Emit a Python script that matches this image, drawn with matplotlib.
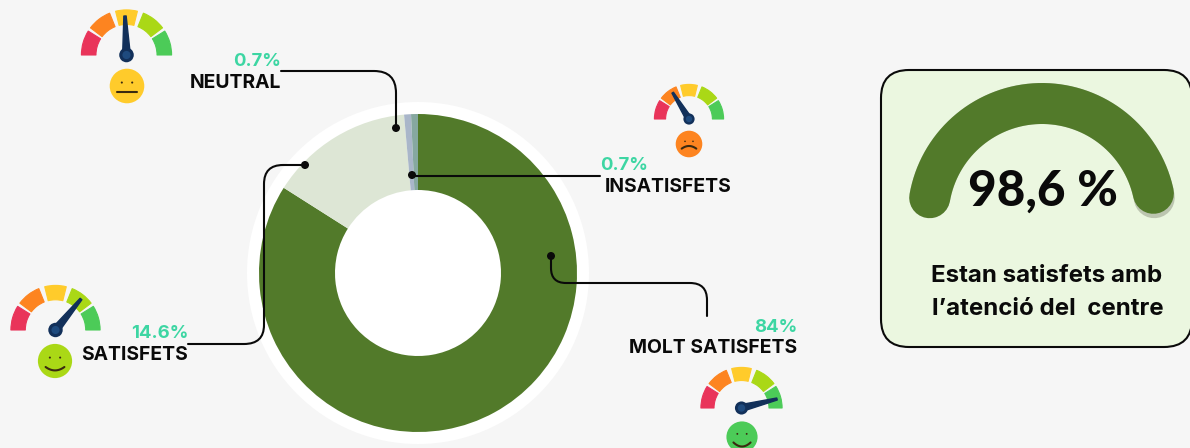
import numpy as np
import matplotlib
matplotlib.use('Agg')
import matplotlib.pyplot as plt
from matplotlib.patches import Circle, Wedge, Polygon, FancyBboxPatch, PathPatch
from matplotlib.path import Path

# Data
categories = ['MOLT SATISFETS', 'SATISFETS', 'NEUTRAL', 'INSATISFETS']
values = [84, 14.6, 0.7, 0.7]
value_labels = ['84%', '14.6%', '0.7%', '0.7%']
total_satisfied = 98.6
colors = ['#527a2a', '#dde6d5', '#a9b6c9', '#86a8a0']

BG = '#f6f6f6'
INK = '#0a0a0a'
MINT = '#3dd6a3'
GAUGE_COLORS = ['#e9345a', '#fd8420', '#ffcb2b', '#aad816', '#4ccb58']
GAUGE_SPANS = [(148, 180), (112, 143), (76, 104), (37, 68), (0, 32)]

W, H = 1190, 448
plt.rcParams['font.family'] = ['Inter', 'DejaVu Sans']

fig = plt.figure(figsize=(W / 100, H / 100), dpi=100, facecolor=BG)

# Pixel-space canvas behind everything
bg = fig.add_axes([0, 0, 1, 1], zorder=0)
bg.set_xlim(0, W)
bg.set_ylim(H, 0)
bg.axis('off')
bg.add_patch(Circle((418, 273), 171, fc='white', ec='none'))

# Donut
R = 159
pie_ax = fig.add_axes([(418 - R) / W, (H - 273 - R) / H, 2 * R / W, 2 * R / H], zorder=1)
pie_ax.pie(values, colors=colors, startangle=90, counterclock=False, radius=1,
           wedgeprops={'width': 1 - 83 / R, 'linewidth': 0})
pie_ax.set_xlim(-1, 1)
pie_ax.set_ylim(-1, 1)
pie_ax.set_aspect('auto')
pie_ax.patch.set_alpha(0)

# Annotation layer
ax = fig.add_axes([0, 0, 1, 1], zorder=2)
ax.set_xlim(0, W)
ax.set_ylim(H, 0)
ax.axis('off')
ax.patch.set_alpha(0)


def leader(points, dot):
    # points: (x, y, kind) with kind in M, L, Q (Q takes control then end)
    verts, codes = [], []
    for x, y, k in points:
        verts.append((x, y))
        codes.append({'M': Path.MOVETO, 'L': Path.LINETO, 'Q': Path.CURVE3}[k])
    ax.add_patch(PathPatch(Path(verts, codes), fc='none', ec=INK, lw=1.5, capstyle='round'))
    ax.add_patch(Circle(dot, 4, fc=INK, ec='none', zorder=5))


leader([(281, 71, 'M'), (374, 71, 'L'), (396, 71, 'Q'), (396, 93, 'Q'), (396, 128, 'L')], (396, 128))
leader([(412, 176, 'M'), (600, 176, 'L')], (412, 175))
leader([(188, 344, 'M'), (244, 344, 'L'), (264, 344, 'Q'), (264, 325, 'Q'), (264, 184, 'L'),
        (264, 165, 'Q'), (283, 165, 'Q'), (305, 165, 'L')], (305, 165))
leader([(551, 256, 'M'), (551, 268, 'L'), (551, 283, 'Q'), (566, 283, 'Q'), (690, 283, 'L'),
        (707, 283, 'Q'), (707, 300, 'Q'), (707, 316, 'L')], (551, 256))


def label(x, y_pct, y_name, i, ha='right', pct_x=None):
    ax.text(x if pct_x is None else pct_x, y_pct, value_labels[i], color=MINT, fontsize=13.3,
            fontweight='bold', ha=ha, va='center')
    ax.text(x, y_name, categories[i], color=INK, fontsize=13.9, fontweight='bold',
            ha=ha, va='center')


label(281, 62, 83, 2)
label(732, 166, 187, 3, pct_x=648)
label(188, 334, 355, 1)
label(797, 328, 348, 0)


def gauge(cx, cy, r, tip, face, face_c, mouth):
    thick = r * 0.32
    for (a, b), c in zip(GAUGE_SPANS, GAUGE_COLORS):
        ax.add_patch(Wedge((cx, cy), r - 0.4, -b, -a, width=thick, fc=c, ec=c, lw=0.8, joinstyle='round'))
    # needle
    dx, dy = tip[0] - cx, tip[1] - cy
    n = np.hypot(dx, dy)
    ux, uy = -dy / n, dx / n
    base, end = r * 0.085, r * 0.025
    ax.add_patch(Polygon([(cx + ux * base, cy + uy * base), (cx - ux * base, cy - uy * base),
                          (tip[0] - ux * end, tip[1] - uy * end), (tip[0] + ux * end, tip[1] + uy * end)],
                         fc='#12305a', ec='#12305a', lw=1, joinstyle='round', zorder=3))
    ax.add_patch(Circle((cx, cy), r * 0.16, fc='#12305a', ec='none', zorder=3))
    ax.add_patch(Circle((cx, cy), r * 0.09, fc='#1e4a7e', ec='none', zorder=4))
    # face
    fx, fy = face
    fr = r * 0.38
    ax.add_patch(Circle(face, fr, fc=face_c, ec='none'))
    for s in (-1, 1):
        ax.add_patch(Circle((fx + s * fr * 0.3, fy - fr * 0.2), fr * 0.06, fc='#3a2a10', ec='none'))
    t = np.linspace(-1, 1, 20)
    ax.plot(fx + t * fr * 0.55, fy + fr * 0.35 + mouth * fr * 0.2 * (1 - t ** 2),
            color='#3a2a10', lw=1.5, solid_capstyle='round')


gauge(126.5, 55, 45.5, (125, 16), (127, 86), '#ffcb2b', 0)
gauge(689, 119, 35, (672.7, 92.7), (689, 144), '#fd8420', -1)
gauge(55.5, 330, 45, (81, 299), (55, 361), '#aad816', 1)
gauge(741.5, 408, 41, (777, 399), (742, 437), '#4ccb58', 1.3)

# Right hand card
ax.add_patch(FancyBboxPatch((881, 70), 311, 277, boxstyle='round,pad=0,rounding_size=28',
                            fc='#ebf7e0', ec=INK, lw=1.5, zorder=1, clip_on=True))
cx, cy, rc = 1042, 217.5, 114
a0, a1 = 170, 10
track = np.radians(np.linspace(a0, a1, 200))
fill = np.radians(np.linspace(a0, a0 - (a0 - a1) * total_satisfied / 100, 200))
ax.plot(cx + rc * np.cos(track), cy - rc * np.sin(track), color='#bcc5b0', lw=29.5,
        solid_capstyle='round', zorder=2)
ax.plot(cx + rc * np.cos(fill), cy - rc * np.sin(fill), color=colors[0], lw=29.5,
        solid_capstyle='round', zorder=2)
ax.text(1043, 191, f'{total_satisfied:.1f} %'.replace('.', ','), color=INK, fontsize=35.5,
        fontweight=900, family=['Lato', 'DejaVu Sans'], ha='center', va='center', zorder=3)
ax.text(1047, 276, 'Estan satisfets amb', color=INK, fontsize=17.3, fontweight='bold',
        ha='center', va='center', zorder=3)
ax.text(1048, 309, 'l’atenció del  centre', color=INK, fontsize=17.3, fontweight='bold',
        ha='center', va='center', zorder=3)

fig.savefig('out.png', dpi=100, facecolor=BG)
